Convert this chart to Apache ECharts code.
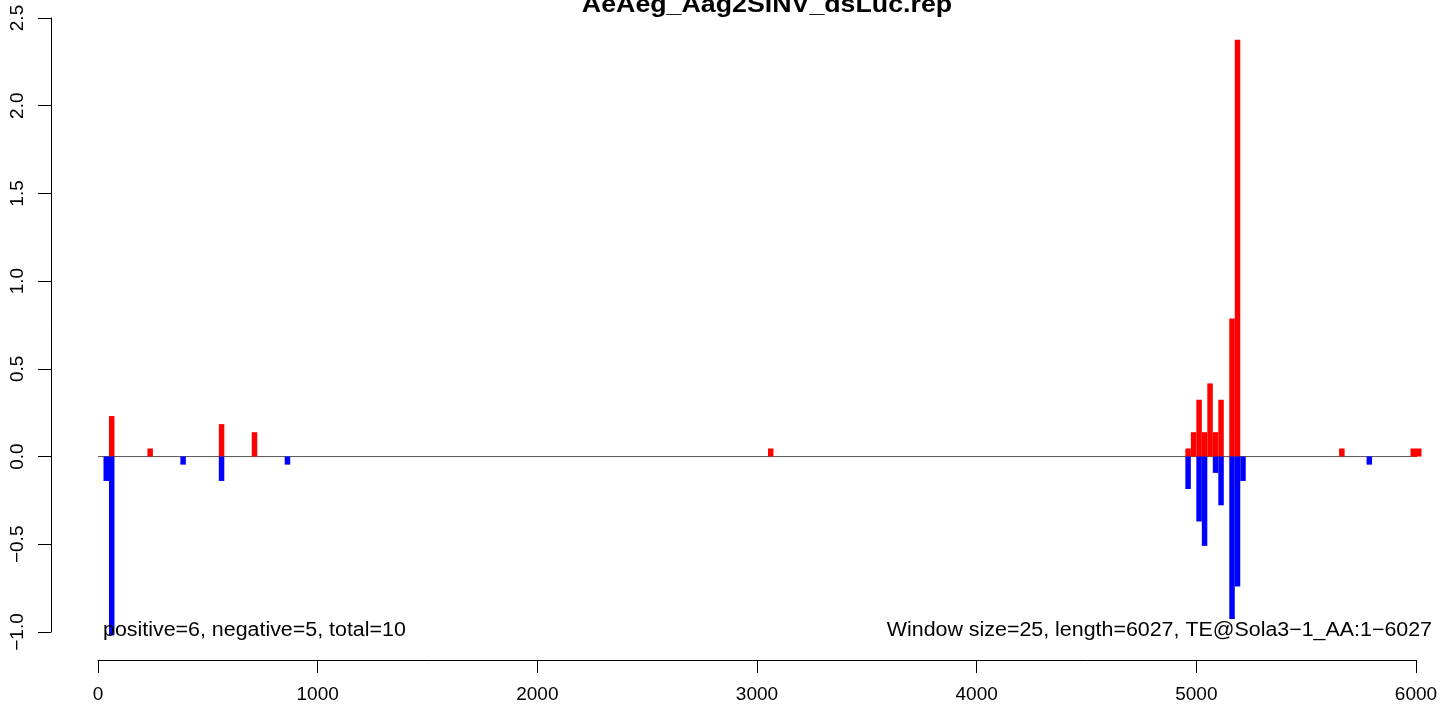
<!DOCTYPE html>
<html>
<head>
<meta charset="utf-8">
<script src="https://cdn.jsdelivr.net/npm/echarts@6/dist/echarts.min.js"></script>
<style>
html,body{margin:0;padding:0;background:#fff;}
#chart{width:1441px;height:711px;}
</style>
</head>
<body>
<div id="chart"></div>
<script>
// Data (window start positions, window size 25)
var titleText = 'AeAeg_Aag2SINV_dsLuc.rep';
var windowSize = 25;
var posStarts = [50, 225, 550, 700, 3050, 4950, 4975, 5000, 5025, 5050, 5075, 5100, 5150, 5175, 5650, 5975, 6000];
var posValues = [0.231, 0.046, 0.185, 0.139, 0.046, 0.046, 0.139, 0.324, 0.139, 0.417, 0.139, 0.324, 0.787, 2.376, 0.046, 0.046, 0.046];
var negStarts = [25, 50, 375, 550, 850, 4950, 5000, 5025, 5075, 5100, 5150, 5175, 5200, 5775];
var negValues = [-0.139, -1.019, -0.046, -0.139, -0.046, -0.185, -0.370, -0.509, -0.093, -0.278, -0.926, -0.741, -0.139, -0.046];
var baselineX = [0, 6075];
var xTicks = [0, 1000, 2000, 3000, 4000, 5000, 6000];
var yTicks = [-1.0, -0.5, 0.0, 0.5, 1.0, 1.5, 2.0, 2.5];
var leftNote = 'positive=6, negative=5, total=10';
var rightNote = 'Window size=25, length=6027, TE@Sola3\u22121_AA:1\u22126027';

var FONT = '"Liberation Sans", Arial, Helvetica, sans-serif';

function pairs(starts, values) {
  return starts.map(function (s, i) { return [s, values[i]]; });
}

function renderBar(color) {
  return function (params, api) {
    var s = api.value(0), v = api.value(1);
    var p0 = api.coord([s, 0]);
    var p1 = api.coord([s + windowSize, v]);
    return {
      type: 'rect',
      shape: {
        x: p0[0], y: Math.min(p0[1], p1[1]),
        width: p1[0] - p0[0], height: Math.abs(p1[1] - p0[1])
      },
      style: { fill: color }
    };
  };
}

var chart = echarts.init(document.getElementById('chart'), null, { renderer: 'canvas' });
chart.setOption({
  animation: false,
  backgroundColor: '#ffffff',
  grid: { left: 98, right: 25, top: 18, bottom: 79, containLabel: false },
  xAxis: {
    type: 'value', min: 0, max: 6000, interval: 1000,
    position: 'bottom',
    offset: 28,
    axisLine: { show: true, onZero: false, lineStyle: { color: '#000', width: 1 } },
    axisTick: { show: true, length: 13, lineStyle: { color: '#000', width: 1 } },
    axisLabel: {
      margin: 25, color: '#000', fontSize: 19, fontFamily: FONT,
      formatter: function (v) { return xTicks.indexOf(v) >= 0 ? String(v) : ''; }
    },
    splitLine: { show: false }
  },
  yAxis: {
    type: 'value', min: -1, max: 2.5, interval: 0.5,
    position: 'left',
    offset: 47,
    axisLine: { show: true, onZero: false, lineStyle: { color: '#000', width: 1 } },
    axisTick: { show: true, length: 13, lineStyle: { color: '#000', width: 1 } },
    axisLabel: {
      margin: 24, rotate: 90, color: '#000', fontSize: 19, fontFamily: FONT,
      formatter: function (v) {
        var s = v.toFixed(1);
        return s.replace('-', '\u2212');
      }
    },
    splitLine: { show: false }
  },
  series: [
    {
      type: 'line', data: [[baselineX[0], 0], [baselineX[1], 0]],
      clip: false, symbol: 'none', silent: true,
      lineStyle: { color: '#555', width: 1 }, z: 1
    },
    {
      type: 'custom', data: pairs(posStarts, posValues), clip: false,
      renderItem: renderBar('#ff0000'), z: 2
    },
    {
      type: 'custom', data: pairs(negStarts, negValues), clip: false,
      renderItem: renderBar('#0000ff'), z: 2
    }
  ],
  graphic: [
    {
      type: 'text', x: 767, y: 5, z: 10, scaleX: 1.115,
      style: {
        text: titleText, fill: '#000', font: 'bold 24px ' + FONT,
        align: 'center', verticalAlign: 'middle'
      }
    },
    {
      type: 'text', x: 103, y: 630, z: 10, scaleX: 1.07,
      style: {
        text: leftNote, fill: '#000', font: '20px ' + FONT,
        align: 'left', verticalAlign: 'middle'
      }
    },
    {
      type: 'text', x: 1432, y: 630, z: 10, scaleX: 1.07,
      style: {
        text: rightNote, fill: '#000', font: '20px ' + FONT,
        align: 'right', verticalAlign: 'middle'
      }
    }
  ]
});
</script>
</body>
</html>
